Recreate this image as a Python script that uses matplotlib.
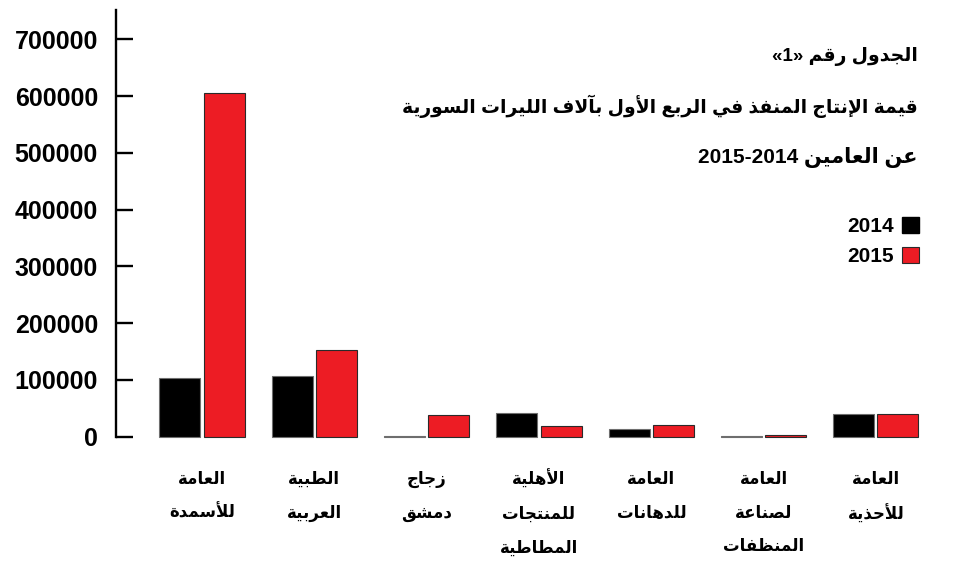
import matplotlib
matplotlib.use("Agg")
import matplotlib.pyplot as plt
import numpy as np
from matplotlib.patches import Patch

# values in thousands of Syrian pounds
companies = [
    "العامة\nللأسمدة",
    "الطبية\nالعربية",
    "زجاج\nدمشق",
    "الأهلية\nللمنتجات\nالمطاطية",
    "العامة\nللدهانات",
    "العامة\nلصناعة\nالمنظفات",
    "العامة\nللأحذية",
]
values_2014 = [103000, 107000, 500, 41000, 14000, 500, 40500]
values_2015 = [606000, 152500, 38000, 18200, 20600, 3800, 40800]
series_names = ["2014", "2015"]
y_ticks = [0, 100000, 200000, 300000, 400000, 500000, 600000, 700000]

title_lines = [
    "الجدول رقم «1»",
    "قيمة الإنتاج المنفذ في الربع الأول بآلاف الليرات السورية",
    "عن العامين 2014-2015",
]

BLACK = "#000000"
RED = "#ED1C24"
W, H = 961, 563

# matplotlib 3.10 does not shape Arabic, so join the letters by hand
# into presentation forms and lay them out right to left
DUAL = {'ب': 0xFE8F, 'ت': 0xFE95, 'ث': 0xFE99, 'ج': 0xFE9D, 'ح': 0xFEA1,
        'خ': 0xFEA5, 'س': 0xFEB1, 'ش': 0xFEB5, 'ص': 0xFEB9, 'ض': 0xFEBD,
        'ط': 0xFEC1, 'ظ': 0xFEC5, 'ع': 0xFEC9, 'غ': 0xFECD, 'ف': 0xFED1,
        'ق': 0xFED5, 'ك': 0xFED9, 'ل': 0xFEDD, 'م': 0xFEE1, 'ن': 0xFEE5,
        'ه': 0xFEE9, 'ي': 0xFEF1, 'ئ': 0xFE89}
RIGHT = {'آ': 0xFE81, 'أ': 0xFE83, 'ؤ': 0xFE85, 'إ': 0xFE87, 'ا': 0xFE8D,
         'ة': 0xFE93, 'د': 0xFEA9, 'ذ': 0xFEAB, 'ر': 0xFEAD, 'ز': 0xFEAF,
         'و': 0xFEED, 'ى': 0xFEEF}
LAM_ALEF = {'آ': 0xFEF5, 'أ': 0xFEF7, 'إ': 0xFEF9, 'ا': 0xFEFB}
MIRROR = {'«': '»', '»': '«', '(': ')', ')': '('}


def shape(text):
    units = []  # (glyph code or char, joining type)
    i = 0
    while i < len(text):
        c = text[i]
        if c == 'ل' and i + 1 < len(text) and text[i + 1] in LAM_ALEF:
            units.append((LAM_ALEF[text[i + 1]], "R"))
            i += 2
            continue
        if c in DUAL:
            units.append((DUAL[c], "D"))
        elif c in RIGHT:
            units.append((RIGHT[c], "R"))
        else:
            units.append((c, None))
        i += 1
    out = []
    for k, (code, kind) in enumerate(units):
        if kind is None:
            out.append(code)
            continue
        prev = k > 0 and units[k - 1][1] == "D"
        nxt = kind == "D" and k + 1 < len(units) and units[k + 1][1] is not None
        off = 3 if (prev and nxt) else 1 if prev else 2 if nxt else 0
        out.append(chr(code + off))
    return "".join(out)


def rtl(text):
    lines = []
    for line in text.split("\n"):
        s = shape(line)
        tokens = []
        for ch in s:
            if ch.isdigit() and tokens and tokens[-1].isdigit():
                tokens[-1] += ch
            else:
                tokens.append(ch)
        lines.append("".join(MIRROR.get(t, t) for t in reversed(tokens)))
    return "\n".join(lines)


plt.rcParams['font.family'] = ['Liberation Sans', 'DejaVu Sans']
plt.rcParams['font.weight'] = 'bold'

fig = plt.figure(figsize=(W / 100, H / 100), dpi=100)
ax = fig.add_axes([116 / W, 1 - 436.7 / H, (940 - 116) / W, (436.7 - 10) / H])

x = np.arange(len(companies))
bar_w = 0.365
off = 0.196
ax.bar(x - off, values_2014, bar_w, color=BLACK, edgecolor="#6e6e6e",
       linewidth=0.8, clip_on=False)
ax.bar(x + off, values_2015, bar_w, color=RED, edgecolor="#2a2a2a",
       linewidth=0.8, clip_on=False)

ax.set_xlim((116 - 202) / 112.33, (940 - 202) / 112.33)
ax.set_ylim(0, 751600)

for side in ["top", "right", "bottom"]:
    ax.spines[side].set_visible(False)
ax.spines["left"].set_linewidth(1.7)
ax.set_xticks([])
ax.set_yticks(y_ticks)
ax.set_yticklabels([str(v) for v in y_ticks], fontsize=18, fontweight="bold")
ax.tick_params(axis="y", direction="in", length=12.2, width=1.7, pad=13)

# category labels under each pair of bars
for xi, name in zip(x, companies):
    px = 202 + xi * 112.33
    fig.text(px / W, 1 - 470 / H, rtl(name), ha="center", va="top",
             fontsize=12, fontweight="bold", linespacing=2.12,
             family=['DejaVu Sans'])

# title block, right aligned
title_y = [57, 106, 157]
title_size = [13.5, 13.5, 15]
for line, ty, fs in zip(title_lines, title_y, title_size):
    fig.text(918 / W, 1 - ty / H, rtl(line), ha="right", va="center",
             fontsize=fs, fontweight="bold")

handles = [Patch(facecolor=BLACK, edgecolor=BLACK),
           Patch(facecolor=RED, edgecolor="#2a2a2a", linewidth=0.8)]
fig.legend(handles, series_names, loc="upper right", frameon=False,
           markerfirst=False, bbox_to_anchor=(919 / W, 1 - 217 / H),
           prop={"size": 15, "weight": "bold"}, handlelength=0.8,
           handleheight=0.8, handletextpad=0.4, labelspacing=0.5,
           borderaxespad=0, borderpad=0)

fig.savefig("out.png", dpi=100)
